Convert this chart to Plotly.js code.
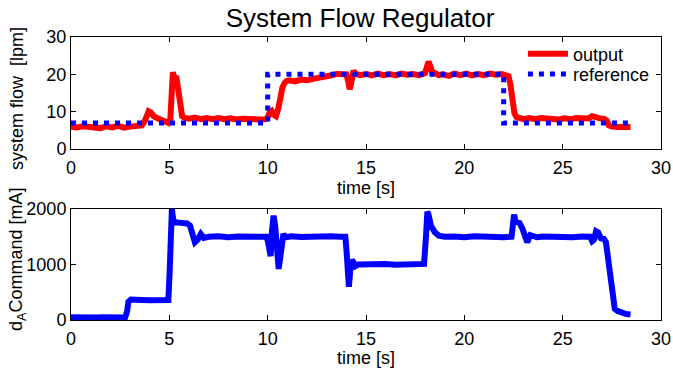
<!DOCTYPE html>
<html>
<head>
<meta charset="utf-8">
<script src="https://cdn.plot.ly/plotly-3.0.1.min.js"></script>
<style>html,body{margin:0;padding:0;background:#fff;}#chart{width:673px;height:368px;}</style>
</head>
<body>
<div id="chart"></div>
<script>
// Top panel: system flow output (lpm)
var outT = [0,0.3,0.6,0.9,1.2,1.5,1.8,2.1,2.4,2.7,3.0,3.3,3.6,3.75,3.85,3.95,4.05,4.2,4.4,4.6,4.8,4.95,
  5.05,5.12,5.18,5.25,5.35,5.45,5.55,5.65,5.8,6.0,6.3,6.6,6.9,7.2,7.5,7.8,8.1,8.4,8.7,9.0,9.3,9.6,9.9,
  10.0,10.1,10.2,10.3,10.42,10.55,10.65,10.75,10.85,10.95,11.1,11.4,11.7,12.0,12.3,12.6,12.9,13.2,13.5,13.8,14.0,
  14.1,14.17,14.24,14.3,14.37,14.45,14.7,15.0,15.3,15.6,15.9,16.2,16.5,16.8,17.1,17.4,17.7,18.0,
  18.1,18.18,18.26,18.35,18.5,18.7,18.9,19.2,19.5,19.8,20.1,20.4,20.7,21.0,21.3,21.6,21.9,22.1,22.25,
  22.35,22.45,22.55,22.65,22.8,23.0,23.3,23.6,23.9,24.2,24.5,24.8,25.1,25.4,25.7,26.0,26.3,26.5,26.65,
  26.9,27.1,27.25,27.35,27.5,27.8,28.1,28.45];
var outV = [6.0,5.8,6.1,5.9,6.0,5.6,6.1,5.8,6.2,5.7,6.0,6.2,6.3,7.5,9.6,10.1,9.8,8.8,8.2,7.6,7.2,7.0,
  8.0,17.0,20.6,19.0,19.5,16.0,11.0,8.8,8.3,8.1,8.4,8.0,8.3,8.0,8.3,8.0,8.2,7.9,8.1,7.9,8.1,7.9,8.0,
  8.4,9.8,10.2,9.2,8.8,11.0,14.0,16.5,17.6,18.2,18.4,18.1,18.6,18.4,18.8,19.0,19.5,19.7,20.1,19.8,20.0,
  18.0,16.0,17.5,20.5,21.0,20.2,19.8,20.1,19.7,20.2,19.8,20.1,19.7,20.2,19.9,20.1,19.8,20.3,
  22.0,23.4,22.3,20.8,20.3,19.8,20.0,19.6,20.2,19.8,20.2,19.7,20.1,19.8,20.2,19.9,20.1,19.8,19.5,
  17.0,12.0,9.5,8.6,8.4,8.0,8.3,8.0,8.3,8.1,8.3,7.9,8.2,8.0,8.3,8.1,8.2,8.8,8.5,
  8.2,8.1,7.5,6.3,6.0,5.9,6.0,5.9];

// Top panel: reference (lpm)
var refT = [0,10,10,22,22,28.5];
var refV = [7,7,20,20,7,7];

// Bottom panel: dA command (mA)
var cmdT = [0,0.4,0.8,1.2,1.6,2.0,2.4,2.75,2.85,2.92,3.05,3.3,3.6,4.0,4.5,4.95,
  5.02,5.08,5.13,5.2,5.3,5.6,5.9,6.05,6.15,6.3,6.45,6.6,6.75,7.0,7.5,8.0,8.5,9.0,9.5,9.95,
  10.02,10.08,10.15,10.22,10.3,10.38,10.48,10.56,10.63,10.72,10.8,10.9,11.2,11.7,12.2,12.7,13.2,13.7,13.95,
  14.02,14.08,14.13,14.2,14.28,14.35,14.45,14.6,15.0,15.5,16.0,16.5,17.0,17.5,17.95,
  18.05,18.12,18.18,18.3,18.5,18.7,19.0,19.5,20.0,20.5,21.0,21.5,22.0,22.4,
  22.47,22.53,22.6,22.8,22.95,23.1,23.2,23.35,23.5,23.7,24.0,24.5,25.0,25.5,26.0,26.4,
  26.5,26.6,26.7,26.8,26.95,27.1,27.2,27.35,27.45,27.55,27.65,27.8,28.0,28.2,28.45];
var cmdV = [50,40,55,45,50,40,50,45,150,330,370,375,360,355,355,360,
  900,1700,2000,1800,1760,1750,1740,1700,1550,1400,1450,1550,1480,1500,1510,1490,1505,1495,1510,1500,
  1400,1150,1150,1600,1880,1700,1200,920,1100,1500,1550,1490,1510,1495,1505,1490,1510,1500,1500,
  1200,650,600,900,1080,1050,970,1000,1005,990,1010,995,1005,990,1010,
  1500,1950,1900,1700,1580,1520,1500,1505,1490,1510,1495,1505,1490,1500,
  1750,1900,1780,1750,1650,1450,1400,1530,1520,1490,1505,1495,1510,1490,1505,1500,
  1420,1450,1600,1580,1470,1460,1400,1000,600,300,200,160,130,110,100];

var xTicks = [0,5,10,15,20,25,30];
var flowTicks = [0,10,20,30];
var cmdTicks = [0,1000,2000];

var FONT = 'Liberation Sans, Arial, Helvetica, sans-serif';

var traces = [
  {x: outT, y: outV, xaxis: 'x', yaxis: 'y', mode: 'lines', name: 'output', legend: 'legend',
   line: {color: '#ff0000', width: 6}},
  {x: refT, y: refV, xaxis: 'x', yaxis: 'y', mode: 'lines', name: 'reference', legend: 'legend2',
   line: {color: '#0000ff', width: 5, dash: '5px,6px'}},
  {x: cmdT, y: cmdV, xaxis: 'x2', yaxis: 'y2', mode: 'lines', name: 'command', showlegend: false,
   line: {color: '#0000ff', width: 6}}
];

function xax(anchor) {
  return {
    anchor: anchor, domain: [0, 1], range: [0, 30], tickvals: xTicks, ticktext: xTicks.map(String),
    ticks: 'inside', ticklen: 5, tickwidth: 1, tickcolor: '#000', mirror: 'ticks',
    showline: true, linecolor: '#000', linewidth: 1, showgrid: false, zeroline: false,
    tickfont: {family: FONT, size: 18, color: '#000'}, ticklabelstandoff: 2,
    title: {text: 'time [s]', font: {family: FONT, size: 18, color: '#000'}, standoff: 0}
  };
}

function legendBox(yTop) {
  return {x: 0.766, y: yTop, xanchor: 'left', yanchor: 'top', bgcolor: 'rgba(0,0,0,0)',
          borderwidth: 0, font: {family: FONT, size: 18, color: '#000'}, itemwidth: 40,
          tracegroupgap: 0};
}

var layout = {
  width: 673, height: 368,
  margin: {l: 71, r: 12, t: 37, b: 48},
  paper_bgcolor: '#fff', plot_bgcolor: '#fff',
  font: {family: FONT, size: 18, color: '#000'},
  title: {text: 'System Flow Regulator', font: {family: FONT, size: 26, color: '#000'},
          x: 0.49, xanchor: 'center', xref: 'paper', y: 0.976, yanchor: 'top'},
  showlegend: true,
  legend: legendBox(1.005),
  legend2: legendBox(0.934),
  xaxis: xax('y'),
  xaxis2: xax('y2'),
  yaxis: {
    anchor: 'x', domain: [0.6042, 1], range: [0, 30], tickvals: flowTicks, ticktext: flowTicks.map(String),
    ticks: 'inside', ticklen: 5, tickwidth: 1, tickcolor: '#000', mirror: 'ticks',
    showline: true, linecolor: '#000', linewidth: 1, showgrid: false, zeroline: false,
    tickfont: {family: FONT, size: 18, color: '#000'}
  },
  yaxis2: {
    anchor: 'x2', domain: [0, 0.3922], range: [0, 2000], tickvals: cmdTicks, ticktext: cmdTicks.map(String),
    ticks: 'inside', ticklen: 5, tickwidth: 1, tickcolor: '#000', mirror: 'ticks',
    showline: true, linecolor: '#000', linewidth: 1, showgrid: false, zeroline: false,
    tickfont: {family: FONT, size: 18, color: '#000'}
  },
  annotations: [
    {text: 'system flow  [lpm]', xref: 'paper', yref: 'paper', x: -0.0915, y: 0.781,
     xanchor: 'center', yanchor: 'middle', textangle: -90, showarrow: false,
     font: {family: FONT, size: 18, color: '#000'}},
    {text: 'd<sub>A</sub>Command [mA]', xref: 'paper', yref: 'paper', x: -0.0915, y: 0.212,
     xanchor: 'center', yanchor: 'middle', textangle: -90, showarrow: false,
     font: {family: FONT, size: 18, color: '#000'}}
  ]
};

Plotly.newPlot('chart', traces, layout, {staticPlot: true, displayModeBar: false});
</script>
</body>
</html>
